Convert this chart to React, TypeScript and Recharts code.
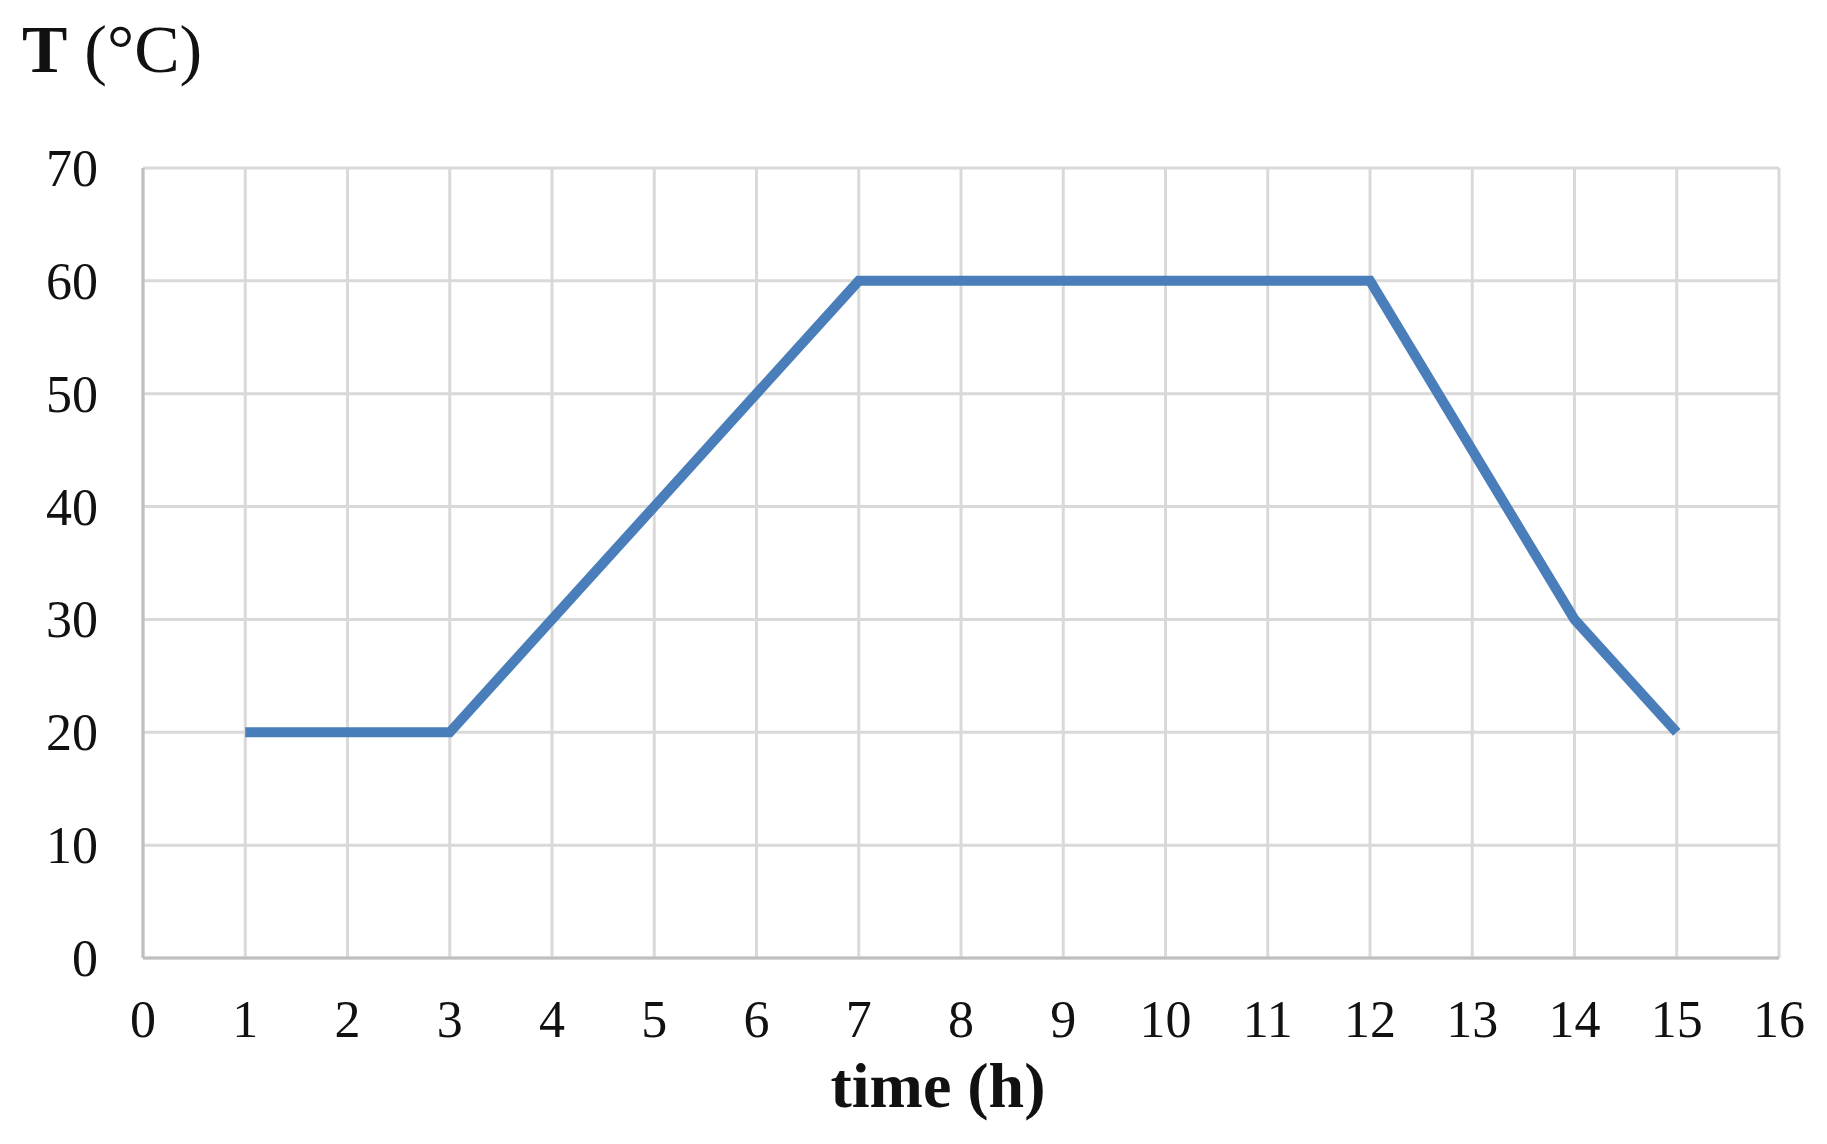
import React from 'react';
import { LineChart, Line, XAxis, YAxis, CartesianGrid } from 'recharts';

const hours = [1, 2, 3, 4, 5, 6, 7, 8, 9, 10, 11, 12, 13, 14, 15];
const temps = [20, 20, 20, 30, 40, 50, 60, 60, 60, 60, 60, 60, 45, 30, 20];
const xTicks = [0, 1, 2, 3, 4, 5, 6, 7, 8, 9, 10, 11, 12, 13, 14, 15, 16];
const yTicks = [0, 10, 20, 30, 40, 50, 60, 70];

const data = hours.map((h, i) => ({ time: h, temp: temps[i] }));

const FONT = '"Liberation Serif", "Times New Roman", serif';
const W = 1827;
const H = 1144;

const XTick = (props: any) => {
  const { x, y, payload } = props;
  return (
    <text x={x} y={y + 79} textAnchor="middle" fontFamily={FONT} fontSize={52} fill="#111">
      {payload.value}
    </text>
  );
};

const YTick = (props: any) => {
  const { x, y, payload } = props;
  return (
    <text x={x - 45} y={y + 18} textAnchor="end" fontFamily={FONT} fontSize={52} fill="#111">
      {payload.value}
    </text>
  );
};

const App: React.FC = () => {
  return (
    <div style={{ position: 'absolute', left: 0, top: 0, width: W, height: H, background: '#fff' }}>
      <LineChart
        width={W}
        height={H}
        data={data}
        margin={{ top: 168, right: 48, bottom: 0, left: 0 }}
      >
        <CartesianGrid stroke="#d9d9d9" strokeWidth={3} />
        <XAxis
          dataKey="time"
          type="number"
          domain={[0, 16]}
          ticks={xTicks}
          interval={0}
          height={186}
          tickSize={0}
          tickMargin={0}
          tickLine={false}
          axisLine={{ stroke: '#bfbfbf', strokeWidth: 3 }}
          tick={<XTick />}
        />
        <YAxis
          type="number"
          domain={[0, 70]}
          ticks={yTicks}
          interval={0}
          width={143}
          tickSize={0}
          tickMargin={0}
          tickLine={false}
          axisLine={{ stroke: '#bfbfbf', strokeWidth: 3 }}
          tick={<YTick />}
        />
        <Line
          type="linear"
          dataKey="temp"
          stroke="#4a7ebb"
          strokeWidth={10}
          dot={false}
          activeDot={false}
          strokeLinejoin="miter"
          isAnimationActive={false}
        />
      </LineChart>
      <svg
        width={W}
        height={H}
        style={{ position: 'absolute', left: 0, top: 0, pointerEvents: 'none' }}
      >
        <text x={22} y={72} fontFamily={FONT} fontSize={68} fill="#111">
          <tspan fontWeight="bold">T</tspan>
          <tspan> (°C)</tspan>
        </text>
        <text x={938} y={1107} textAnchor="middle" fontFamily={FONT} fontSize={64} fontWeight="bold" fill="#111">
          time (h)
        </text>
      </svg>
    </div>
  );
};

export default App;
